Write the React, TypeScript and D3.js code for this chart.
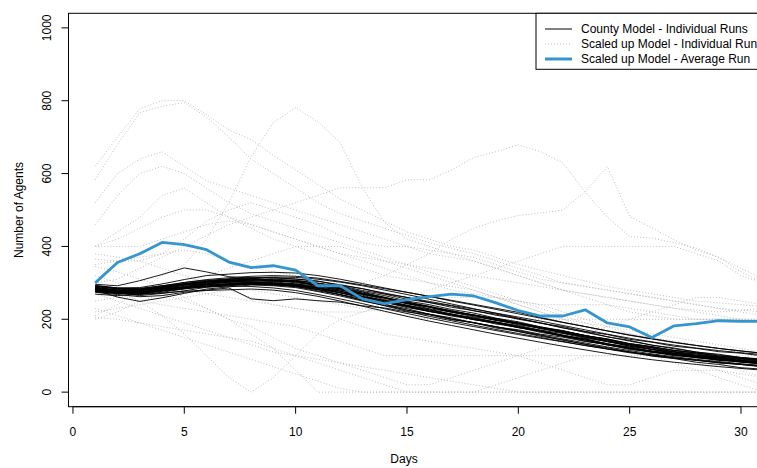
import React, { useEffect, useRef } from 'react';
import * as d3 from 'd3';

// ————— Data —————
const days = d3.range(1, 32); // day 1 .. 31

const averageRun = [300, 356, 380, 411, 405, 391, 357, 342, 347, 335, 292, 292, 256, 243, 254, 262, 269, 264, 245, 224, 209, 209, 226, 190, 179, 150, 182, 188, 196, 194, 194];

const countyRuns = [
  [292, 286, 287, 297, 309, 320, 324, 328, 329, 327, 320, 310, 298, 286, 274, 263, 250, 239, 227, 215, 203, 191, 180, 168, 156, 146, 136, 128, 120, 113, 106],
  [296, 292, 306, 323, 341, 330, 317, 313, 307, 303, 294, 283, 272, 259, 247, 236, 223, 212, 202, 190, 179, 167, 156, 143, 133, 123, 115, 107, 99, 93, 88],
  [279, 261, 249, 259, 271, 283, 289, 294, 292, 287, 276, 264, 250, 238, 225, 214, 201, 191, 179, 169, 157, 146, 135, 124, 114, 105, 97, 90, 84, 78, 73],
  [274, 268, 262, 265, 274, 279, 281, 283, 280, 273, 263, 250, 236, 222, 208, 195, 183, 171, 159, 148, 137, 126, 116, 106, 97, 89, 82, 76, 70, 65, 60],
  [285, 279, 281, 287, 297, 303, 305, 309, 305, 303, 293, 284, 269, 258, 243, 233, 219, 210, 197, 188, 175, 165, 151, 142, 129, 121, 110, 104, 95, 91, 84],
  [288, 279, 279, 284, 295, 299, 306, 307, 311, 305, 299, 286, 275, 259, 248, 234, 224, 211, 202, 188, 178, 164, 154, 140, 130, 117, 110, 100, 95, 87, 83],
  [278, 273, 269, 277, 283, 291, 293, 297, 294, 292, 282, 273, 258, 247, 232, 222, 209, 200, 187, 178, 164, 154, 140, 130, 117, 110, 100, 95, 87, 83, 76],
  [283, 274, 273, 279, 291, 297, 304, 303, 303, 297, 291, 277, 266, 250, 239, 225, 215, 202, 193, 180, 170, 156, 146, 132, 123, 112, 106, 97, 93, 85, 82],
  [293, 286, 283, 291, 301, 307, 311, 314, 313, 311, 304, 295, 284, 272, 260, 249, 238, 228, 217, 206, 195, 183, 171, 159, 148, 138, 129, 121, 114, 108, 103],
  [269, 265, 269, 274, 284, 289, 296, 296, 297, 291, 285, 272, 261, 246, 235, 221, 212, 199, 190, 177, 167, 153, 143, 129, 120, 109, 103, 94, 90, 82, 79],
  [286, 280, 275, 283, 287, 294, 295, 299, 297, 296, 288, 281, 268, 258, 244, 234, 221, 212, 199, 190, 177, 168, 155, 146, 133, 125, 114, 108, 99, 95, 88],
  [281, 273, 276, 283, 293, 300, 303, 303, 299, 292, 281, 267, 252, 237, 222, 208, 196, 184, 172, 161, 150, 139, 128, 118, 108, 100, 93, 87, 81, 76, 71],
  [284, 278, 278, 289, 296, 304, 306, 310, 308, 307, 298, 290, 276, 265, 250, 240, 227, 217, 203, 193, 179, 169, 155, 145, 131, 122, 111, 105, 96, 92, 85],
  [279, 272, 274, 278, 287, 291, 297, 297, 298, 292, 286, 273, 262, 247, 236, 222, 213, 200, 191, 178, 168, 154, 144, 130, 121, 110, 104, 95, 91, 83, 80],
  [282, 277, 276, 284, 289, 296, 297, 299, 294, 290, 278, 268, 253, 241, 225, 214, 200, 190, 176, 167, 153, 144, 131, 122, 110, 103, 93, 88, 80, 76, 69],
  [287, 280, 283, 288, 298, 302, 308, 307, 307, 300, 293, 280, 269, 254, 243, 229, 220, 207, 198, 185, 176, 162, 152, 138, 129, 117, 111, 101, 97, 89, 86],
  [291, 285, 285, 292, 301, 309, 314, 318, 320, 318, 313, 304, 294, 284, 274, 263, 252, 241, 230, 219, 205, 192, 180, 168, 157, 147, 137, 128, 120, 113, 107],
  [276, 271, 270, 279, 286, 295, 298, 302, 299, 297, 286, 277, 262, 251, 236, 226, 212, 203, 190, 181, 167, 157, 143, 133, 120, 112, 102, 97, 89, 85, 78],
  [284, 277, 280, 285, 294, 297, 302, 301, 301, 294, 287, 273, 262, 247, 236, 222, 212, 199, 190, 177, 168, 155, 146, 133, 124, 113, 107, 98, 94, 86, 83],
  [289, 284, 283, 292, 298, 306, 308, 311, 307, 304, 293, 284, 270, 259, 244, 234, 221, 212, 199, 190, 177, 168, 155, 146, 133, 125, 114, 108, 99, 94, 86],
  [280, 272, 268, 272, 277, 280, 286, 256, 251, 256, 251, 247, 237, 231, 220, 212, 199, 191, 179, 171, 159, 151, 139, 131, 119, 112, 102, 97, 88, 84, 76],
  [285, 277, 273, 282, 288, 297, 301, 306, 304, 303, 294, 286, 272, 261, 245, 234, 220, 210, 197, 188, 174, 164, 150, 140, 126, 117, 106, 100, 91, 87, 79],
  [286, 281, 280, 289, 295, 303, 305, 310, 308, 307, 299, 292, 279, 269, 255, 246, 233, 224, 211, 202, 189, 180, 167, 158, 145, 137, 126, 120, 111, 107, 99],
  [281, 274, 275, 279, 289, 292, 297, 296, 296, 289, 282, 268, 257, 241, 229, 214, 204, 190, 180, 166, 156, 142, 132, 119, 111, 99, 92, 82, 76, 67, 63],
  [277, 272, 265, 271, 278, 288, 292, 297, 295, 294, 285, 277, 263, 252, 238, 228, 214, 205, 192, 183, 170, 161, 148, 139, 126, 118, 107, 101, 92, 88, 81],
  [291, 283, 281, 285, 296, 302, 310, 312, 315, 310, 305, 293, 284, 270, 260, 246, 237, 223, 214, 200, 190, 176, 166, 152, 142, 129, 121, 110, 104, 95, 91],
  [283, 278, 279, 287, 296, 304, 310, 314, 316, 315, 310, 302, 292, 280, 268, 255, 242, 229, 216, 203, 190, 177, 164, 152, 140, 129, 119, 110, 102, 95, 89],
  [276, 270, 272, 278, 285, 289, 291, 290, 286, 279, 268, 256, 243, 229, 216, 203, 191, 180, 169, 158, 148, 138, 128, 119, 110, 102, 95, 88, 82, 76, 71],
];

const scaledRuns = [
  [620, 700, 778, 800, 800, 762, 720, 693, 650, 610, 570, 530, 500, 470, 440, 420, 400, 390, 370, 350, 335, 320, 305, 290, 280, 270, 260, 250, 245, 240, 235],
  [583, 680, 767, 785, 795, 755, 700, 640, 600, 560, 520, 490, 470, 450, 430, 410, 395, 380, 360, 340, 320, 300, 290, 280, 270, 260, 250, 240, 230, 225, 220],
  [210, 240, 280, 320, 350, 420, 520, 646, 740, 781, 742, 685, 561, 465, 420, 400, 380, 360, 340, 320, 300, 280, 260, 240, 220, 210, 200, 200, 200, 200, 200],
  [300, 310, 340, 370, 400, 430, 460, 480, 500, 520, 540, 561, 561, 561, 583, 583, 610, 644, 660, 679, 660, 629, 550, 480, 427, 423, 410, 395, 370, 340, 310],
  [350, 360, 370, 380, 390, 380, 360, 345, 330, 320, 310, 300, 300, 320, 350, 380, 420, 450, 470, 485, 492, 500, 550, 619, 482, 451, 418, 390, 370, 330, 300],
  [520, 600, 640, 660, 620, 580, 560, 540, 520, 500, 480, 460, 440, 420, 400, 380, 370, 360, 340, 320, 300, 280, 270, 260, 250, 240, 230, 225, 220, 225, 230],
  [460, 540, 600, 620, 600, 560, 520, 490, 470, 450, 430, 410, 390, 370, 350, 330, 310, 290, 270, 250, 230, 210, 190, 170, 160, 150, 140, 130, 120, 110, 100],
  [400, 440, 480, 540, 560, 520, 480, 450, 420, 400, 380, 360, 340, 320, 310, 300, 290, 280, 260, 240, 220, 200, 190, 180, 170, 160, 150, 140, 130, 120, 110],
  [400, 400, 400, 420, 440, 460, 470, 460, 440, 420, 400, 380, 360, 340, 320, 300, 280, 270, 260, 250, 240, 240, 240, 240, 230, 220, 210, 200, 200, 200, 200],
  [380, 370, 360, 340, 320, 300, 280, 260, 240, 230, 220, 200, 180, 160, 150, 140, 130, 120, 110, 100, 100, 100, 100, 100, 100, 100, 100, 100, 100, 100, 100],
  [365, 360, 360, 380, 420, 470, 500, 520, 500, 480, 460, 430, 410, 400, 400, 390, 380, 370, 350, 330, 310, 300, 290, 280, 270, 260, 250, 240, 230, 220, 210],
  [345, 330, 310, 290, 260, 230, 200, 160, 120, 60, 0, 0, 0, 0, 0, 0, 0, 0, 0, 0, 0, 0, 0, 0, 0, 0, 0, 0, 0, 0, 0],
  [320, 300, 280, 270, 250, 230, 200, 180, 150, 120, 100, 80, 60, 40, 20, 20, 40, 60, 80, 100, 120, 140, 160, 180, 200, 220, 240, 260, 260, 250, 240],
  [300, 280, 250, 210, 160, 100, 40, 0, 40, 100, 160, 200, 220, 240, 260, 280, 300, 320, 340, 360, 380, 400, 400, 400, 400, 400, 400, 380, 360, 320, 300],
  [290, 270, 250, 240, 230, 220, 210, 200, 190, 180, 160, 140, 120, 100, 100, 100, 100, 100, 100, 100, 80, 60, 40, 20, 20, 40, 60, 60, 60, 50, 40],
  [270, 250, 230, 210, 190, 170, 150, 130, 110, 100, 90, 80, 70, 60, 50, 40, 30, 20, 10, 0, 0, 0, 0, 0, 0, 0, 0, 0, 0, 0, 0],
  [250, 260, 270, 280, 280, 270, 260, 250, 240, 230, 220, 220, 220, 230, 240, 250, 260, 260, 260, 250, 240, 220, 200, 180, 160, 140, 120, 100, 80, 60, 40],
  [220, 230, 240, 250, 260, 270, 280, 280, 270, 260, 250, 240, 230, 220, 210, 200, 200, 200, 200, 200, 200, 200, 200, 200, 200, 200, 200, 200, 200, 200, 200],
  [205, 200, 190, 180, 170, 160, 150, 140, 120, 100, 80, 60, 40, 20, 0, 0, 0, 0, 20, 40, 60, 80, 100, 100, 100, 100, 80, 60, 40, 20, 0],
  [200, 220, 250, 270, 300, 320, 340, 360, 380, 400, 400, 400, 380, 360, 340, 320, 300, 280, 260, 240, 220, 200, 180, 160, 140, 120, 100, 80, 60, 40, 20],
  [400, 420, 450, 480, 500, 500, 480, 460, 440, 420, 400, 380, 370, 360, 350, 340, 330, 320, 310, 300, 290, 280, 270, 260, 250, 240, 230, 220, 210, 200, 190],
  [230, 210, 190, 170, 150, 130, 110, 90, 70, 50, 30, 10, 0, 0, 0, 0, 0, 0, 0, 0, 0, 0, 0, 0, 0, 0, 0, 0, 0, 0, 0],
];

const xTicks = [0, 5, 10, 15, 20, 25, 30];
const yTicks = [0, 200, 400, 600, 800, 1000];
const legendLabels = [
  'County Model - Individual Runs',
  'Scaled up Model - Individual Runs',
  'Scaled up Model - Average Run',
];
// ————————————————————

const FONT = '"Liberation Sans", Arial, Helvetica, sans-serif';
const BLUE = '#3596cf';

export default function App() {
  const ref = useRef<SVGSVGElement | null>(null);

  useEffect(() => {
    const plot = { left: 68.5, right: 790, top: 13.3, bottom: 406.7 };

    const svg = d3.select(ref.current);
    svg.selectAll('*').remove();

    const x = d3.scaleLinear().domain([-0.2, 32.2]).range([plot.left, plot.right]);
    const y = d3.scaleLinear().domain([-40, 1040]).range([plot.bottom, plot.top]);

    const line = d3.line<number>()
      .x((_, i) => x(days[i]))
      .y(d => y(d));

    svg.append('clipPath').attr('id', 'plotclip')
      .append('rect')
      .attr('x', plot.left).attr('y', plot.top)
      .attr('width', plot.right - plot.left).attr('height', plot.bottom - plot.top);

    const g = svg.append('g').attr('clip-path', 'url(#plotclip)');

    // scaled up model runs (gray dotted)
    g.selectAll('path.scaled')
      .data(scaledRuns)
      .join('path')
      .attr('class', 'scaled')
      .attr('d', d => line(d))
      .attr('fill', 'none')
      .attr('stroke', '#bebebe')
      .attr('stroke-width', 1)
      .attr('stroke-dasharray', '1,2');

    // county model runs (black)
    g.selectAll('path.county')
      .data(countyRuns)
      .join('path')
      .attr('class', 'county')
      .attr('d', d => line(d))
      .attr('fill', 'none')
      .attr('stroke', '#000')
      .attr('stroke-width', 0.9);

    // average run (blue)
    g.append('path')
      .datum(averageRun)
      .attr('d', line)
      .attr('fill', 'none')
      .attr('stroke', BLUE)
      .attr('stroke-width', 2.8)
      .attr('stroke-linejoin', 'round');

    // box
    svg.append('rect')
      .attr('x', plot.left).attr('y', plot.top)
      .attr('width', plot.right - plot.left).attr('height', plot.bottom - plot.top)
      .attr('fill', 'none').attr('stroke', '#000').attr('stroke-width', 1);

    // x axis
    const xa = svg.append('g');
    xa.append('line')
      .attr('x1', x(xTicks[0])).attr('x2', x(xTicks[xTicks.length - 1]))
      .attr('y1', plot.bottom).attr('y2', plot.bottom)
      .attr('stroke', '#000');
    xTicks.forEach(t => {
      xa.append('line')
        .attr('x1', x(t)).attr('x2', x(t))
        .attr('y1', plot.bottom).attr('y2', plot.bottom + 7)
        .attr('stroke', '#000');
      xa.append('text')
        .attr('x', x(t)).attr('y', 432)
        .attr('text-anchor', 'middle').attr('dominant-baseline', 'central')
        .attr('font-family', FONT).attr('font-size', '12px')
        .text(t);
    });

    // y axis
    const ya = svg.append('g');
    ya.append('line')
      .attr('x1', plot.left).attr('x2', plot.left)
      .attr('y1', y(yTicks[0])).attr('y2', y(yTicks[yTicks.length - 1]))
      .attr('stroke', '#000');
    yTicks.forEach(t => {
      ya.append('line')
        .attr('x1', plot.left - 7).attr('x2', plot.left)
        .attr('y1', y(t)).attr('y2', y(t))
        .attr('stroke', '#000');
      ya.append('text')
        .attr('transform', `translate(46.5,${y(t)}) rotate(-90)`)
        .attr('text-anchor', 'middle').attr('dominant-baseline', 'central')
        .attr('font-family', FONT).attr('font-size', '12px')
        .text(t);
    });

    // axis titles
    svg.append('text')
      .attr('x', 404).attr('y', 459)
      .attr('text-anchor', 'middle').attr('dominant-baseline', 'central')
      .attr('font-family', FONT).attr('font-size', '12px')
      .text('Days');
    svg.append('text')
      .attr('transform', `translate(19,${(plot.top + plot.bottom) / 2}) rotate(-90)`)
      .attr('text-anchor', 'middle').attr('dominant-baseline', 'central')
      .attr('font-family', FONT).attr('font-size', '12px')
      .text('Number of Agents');

    // legend, top right
    const lg = svg.append('g');
    lg.append('rect')
      .attr('x', 536).attr('y', plot.top)
      .attr('width', plot.right - 536).attr('height', 56)
      .attr('fill', '#fff').attr('stroke', '#000');
    const styles = [
      { color: '#000', width: 1, dash: null },
      { color: '#bebebe', width: 1, dash: '1,2' },
      { color: BLUE, width: 3, dash: null },
    ];
    legendLabels.forEach((lab, i) => {
      const yy = 29 + i * 15;
      lg.append('line')
        .attr('x1', 545).attr('x2', 572)
        .attr('y1', yy).attr('y2', yy)
        .attr('stroke', styles[i].color)
        .attr('stroke-width', styles[i].width)
        .attr('stroke-dasharray', styles[i].dash);
      lg.append('text')
        .attr('x', 581).attr('y', yy)
        .attr('dominant-baseline', 'central')
        .attr('font-family', FONT).attr('font-size', '12px')
        .text(lab);
    });
  }, []);

  return (
    <svg
      ref={ref}
      width={757}
      height={468}
      style={{ position: 'absolute', left: 0, top: 0, background: '#fff', overflow: 'hidden' }}
    />
  );
}
